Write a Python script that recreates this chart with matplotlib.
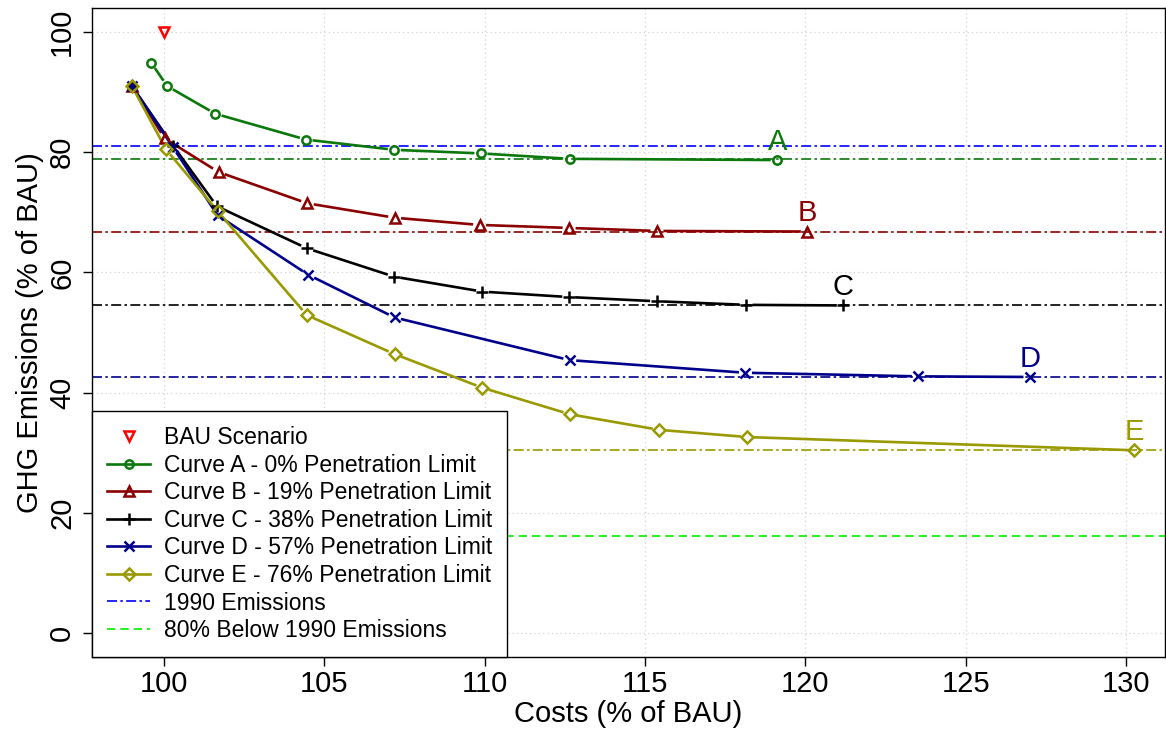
import numpy as np
import matplotlib
matplotlib.use("Agg")
import matplotlib.pyplot as plt
from matplotlib.lines import Line2D

plt.rcParams['font.family'] = ['Liberation Sans', 'DejaVu Sans']

# ---- data ----
bau_x = [100.0]
bau_y = [100.0]

a_x = [99.6, 100.1, 101.6, 104.43, 107.18, 109.88, 112.65, 119.12]
a_y = [94.9, 91.0, 86.4, 82.1, 80.4, 79.8, 78.9, 78.7]

b_x = [99.0, 100.02, 101.7, 104.47, 107.19, 109.84, 112.63, 115.37, 120.06]
b_y = [91.0, 82.3, 76.7, 71.5, 69.1, 67.9, 67.4, 66.9, 66.8]

c_x = [99.0, 100.28, 101.65, 104.46, 107.17, 109.93, 112.62, 115.36, 118.15, 121.18]
c_y = [91.0, 81.1, 71.0, 64.0, 59.3, 56.8, 55.9, 55.2, 54.6, 54.5]

d_x = [99.0, 100.27, 101.67, 104.5, 107.19, 112.65, 118.13, 123.52, 127.0]
d_y = [91.0, 80.9, 69.5, 59.6, 52.5, 45.4, 43.3, 42.7, 42.6]

e_x = [99.0, 100.06, 101.67, 104.45, 107.19, 109.93, 112.65, 115.44, 118.19, 130.25]
e_y = [91.0, 80.5, 70.2, 52.9, 46.4, 40.8, 36.4, 33.8, 32.6, 30.4]

limit_levels = [78.8, 66.8, 54.6, 42.6, 30.4]
level_1990 = 81.0
level_80below = 16.2

curve_names = ["A", "B", "C", "D", "E"]
curve_labels = ["Curve A - 0% Penetration Limit", "Curve B - 19% Penetration Limit",
                "Curve C - 38% Penetration Limit", "Curve D - 57% Penetration Limit",
                "Curve E - 76% Penetration Limit"]
x_ticks = [100, 105, 110, 115, 120, 125, 130]
y_ticks = [0, 20, 40, 60, 80, 100]

# ---- style ----
colors = ["#0a780a", "#8b0000", "#000000", "#00008b", "#999900"]
markers = ["o", "^", "+", "x", "D"]
msizes = [6, 7, 9, 7, 6]
dotdash = (0, (6, 2, 1.5, 2))

fig = plt.figure(figsize=(11.66, 7.36), dpi=100)
W, H = 1166, 736
L, R, T, B = 92, 1165, 8, 657
ax = fig.add_axes([L / W, (H - B) / H, (R - L) / W, (B - T) / H])
ax.set_xlim(97.755, 131.21)
ax.set_ylim(-4, 104)

ax.set_xticks(x_ticks)
ax.set_yticks(y_ticks)
ax.grid(True, color="#d3d3d3", linestyle=(0, (1, 2.5)), linewidth=0.9)
ax.set_axisbelow(True)
for s in ax.spines.values():
    s.set_color("black")
    s.set_linewidth(1.0)
ax.tick_params(axis="both", direction="out", length=6.5, width=1, labelsize=21, colors="black")
ax.tick_params(axis="x", pad=2.5)
ax.tick_params(axis="y", pad=5)
for lab in ax.get_yticklabels():
    lab.set_rotation(90)
    lab.set_va("center")
ax.set_xlabel("Costs (% of BAU)", fontsize=21, labelpad=2)
ax.set_ylabel("GHG Emissions (% of BAU)", fontsize=21, labelpad=3)

# horizontal reference lines
ax.axhline(level_1990, color="#0000ff", lw=1.2, linestyle=dotdash, zorder=2)
ax.axhline(level_80below, color="#00ee00", lw=1.2, linestyle=(0, (5, 3)), zorder=2)
for lvl, col in zip(limit_levels, colors):
    ax.axhline(lvl, color=col, lw=1.2, linestyle=dotdash, zorder=2)

# curves with gaps at points (like R type="b")
gap = 6.5
inv = ax.transData.inverted()
series = [(a_x, a_y), (b_x, b_y), (c_x, c_y), (d_x, d_y), (e_x, e_y)]
for (xs, ys), col, mk, ms in zip(series, colors, markers, msizes):
    pts = ax.transData.transform(np.column_stack([xs, ys]))
    segx, segy = [], []
    for p0, p1 in zip(pts[:-1], pts[1:]):
        d = p1 - p0
        n = np.hypot(*d)
        if n <= 2 * gap:
            continue
        q0 = p0 + d / n * gap
        q1 = p1 - d / n * gap
        dq = inv.transform(np.array([q0, q1]))
        segx += [dq[0, 0], dq[1, 0], np.nan]
        segy += [dq[0, 1], dq[1, 1], np.nan]
    ax.plot(segx, segy, color=col, lw=1.9, solid_capstyle="butt", zorder=3)
    ax.plot(xs, ys, linestyle="none", marker=mk, ms=ms, mfc="none", mec=col, mew=1.8, zorder=4)

ax.plot(bau_x, bau_y, linestyle="none", marker="v", ms=7, mfc="none", mec="#ff0000", mew=1.8, zorder=5)

# end labels
for (xs, ys), col, nm in zip(series, colors, curve_names):
    ax.annotate(nm, (xs[-1], ys[-1]), xytext=(0, 3), textcoords="offset points",
                ha="center", va="bottom", fontsize=21, color=col, zorder=6)

# legend
handles = [Line2D([], [], linestyle="none", marker="v", ms=7, mfc="none", mec="#ff0000", mew=1.8)]
for col, mk, ms in zip(colors, markers, msizes):
    handles.append(Line2D([], [], color=col, lw=1.9, marker=mk, ms=ms, mfc="none", mec=col, mew=1.8))
handles.append(Line2D([], [], color="#0000ff", lw=1.2, linestyle=dotdash))
handles.append(Line2D([], [], color="#00ee00", lw=1.2, linestyle=(0, (5, 3))))
labels = ["BAU Scenario"] + curve_labels + ["1990 Emissions", "80% Below 1990 Emissions"]
leg = ax.legend(handles, labels, loc="lower left", borderaxespad=0, fontsize=16.5,
                frameon=True, fancybox=False, edgecolor="black", framealpha=1,
                labelspacing=0.2, handlelength=1.9, handletextpad=0.6, borderpad=0.65)
leg.get_frame().set_linewidth(1.0)
leg.set_zorder(10)

fig.savefig("out.png", dpi=100)
